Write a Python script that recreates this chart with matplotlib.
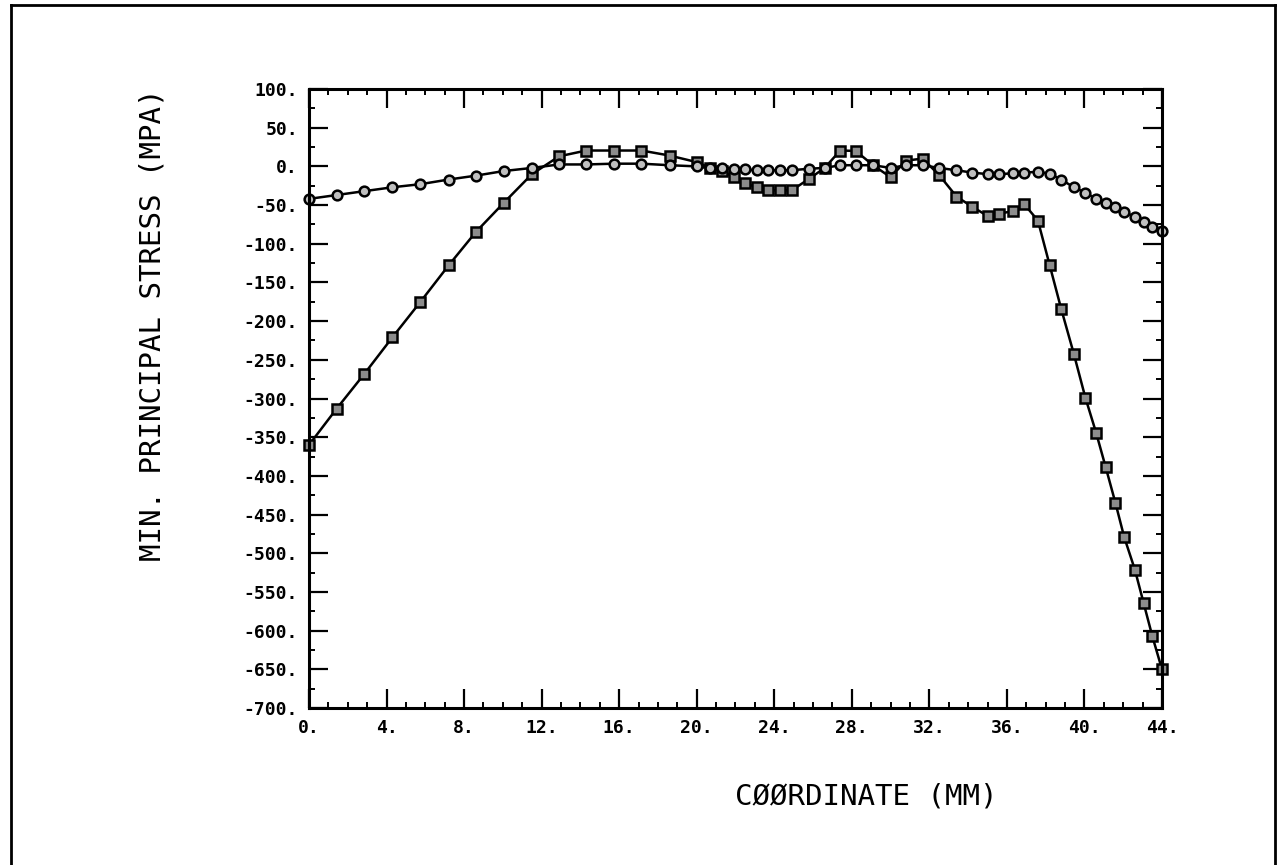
# min principal stress along coordinate, two load cases

import numpy as np
import matplotlib
matplotlib.use("Agg")
import matplotlib.pyplot as plt
from matplotlib.lines import Line2D
from matplotlib.ticker import MultipleLocator, FuncFormatter

coord_mm = [0.0, 1.43, 2.86, 4.3, 5.75, 7.2, 8.6, 10.05, 11.5, 12.9,
            14.3, 15.75, 17.15, 18.6, 20.0, 20.7, 21.3, 21.9, 22.5, 23.1,
            23.7, 24.3, 24.9, 25.8, 26.6, 27.4, 28.2, 29.1, 30.0, 30.8,
            31.65, 32.5, 33.4, 34.2, 35.0, 35.6, 36.3, 36.9, 37.6, 38.2,
            38.8, 39.45, 40.05, 40.6, 41.1, 41.6, 42.05, 42.6, 43.05, 43.5,
            44.0]

stress_circ = [-42, -37, -32, -27, -23, -17, -12, -6, -2, 2.5,
               2.5, 3.5, 3.5, 1.5, 0, -2, -2, -3, -4, -5,
               -5, -5, -5, -3, -2, 1.5, 1.5, 1.5, -2, 1.5,
               1.5, -2, -5, -8, -10, -10, -9, -8, -7, -9.5,
               -17, -27, -34, -42, -47, -53, -59, -65, -72, -78,
               -83]

stress_sq = [-360, -313, -268, -221, -175, -128, -85, -47, -10, 13,
             20.5, 20.5, 20.5, 14, 5.5, -2, -6, -14, -22, -27,
             -31, -31, -31, -16, -2, 20.5, 20, 1.5, -14, 7.5,
             10, -11, -39, -52, -64, -61, -58, -49, -70, -127,
             -184, -242, -299, -344, -389, -435, -479, -521, -564, -607,
             -650]

xticks = np.arange(0, 45, 4)
yticks = np.arange(-700, 101, 50)

plt.rcParams['font.family'] = ['DejaVu Sans Mono']

fig = plt.figure(figsize=(12.79, 8.65), dpi=100)
ax = fig.add_axes([0.2416, 0.1815, 0.6669, 0.7156])

ax.plot(coord_mm, stress_sq, '-', color='black', lw=1.8, clip_on=False,
        marker='s', ms=7, mfc='0.55', mec='black', mew=1.8)
ax.plot(coord_mm, stress_circ, '-', color='black', lw=1.8, clip_on=False,
        marker='o', ms=7, mfc='0.75', mec='black', mew=1.8)

ax.set_xlim(0, 44)
ax.set_ylim(-700, 100)
ax.set_xticks(xticks)
ax.set_yticks(yticks)
ax.xaxis.set_minor_locator(MultipleLocator(1))
ax.yaxis.set_minor_locator(MultipleLocator(25))
fmt = FuncFormatter(lambda v, p: "%d." % int(round(v)))
ax.xaxis.set_major_formatter(fmt)
ax.yaxis.set_major_formatter(fmt)

ax.tick_params(which='both', direction='in', top=True, right=True, color='black')
ax.tick_params(which='major', length=14, width=1.6, labelsize=13, pad=8)
ax.tick_params(which='minor', length=4.5, width=1.4)
for lab in ax.get_xticklabels() + ax.get_yticklabels():
    lab.set_fontweight('bold')
for s in ax.spines.values():
    s.set_linewidth(2.2)

fig.text(153 / 1279, 1 - 325 / 865, "MIN. PRINCIPAL STRESS (MPA)", fontsize=21,
         rotation=90, ha='center', va='center')
fig.text(866 / 1279, 1 - 797 / 865, "CØØRDINATE (MM)", fontsize=21,
         ha='center', va='center')

# page border around the plot
x0, x1, y1 = 11 / 1279, 1275 / 1279, 1 - 5 / 865
for xs, ys in [([x0, x0], [0, y1]), ([x0, x1], [y1, y1]), ([x1, x1], [y1, 0])]:
    fig.add_artist(Line2D(xs, ys, color='black', lw=2, transform=fig.transFigure))

fig.savefig("out.png", dpi=100)
